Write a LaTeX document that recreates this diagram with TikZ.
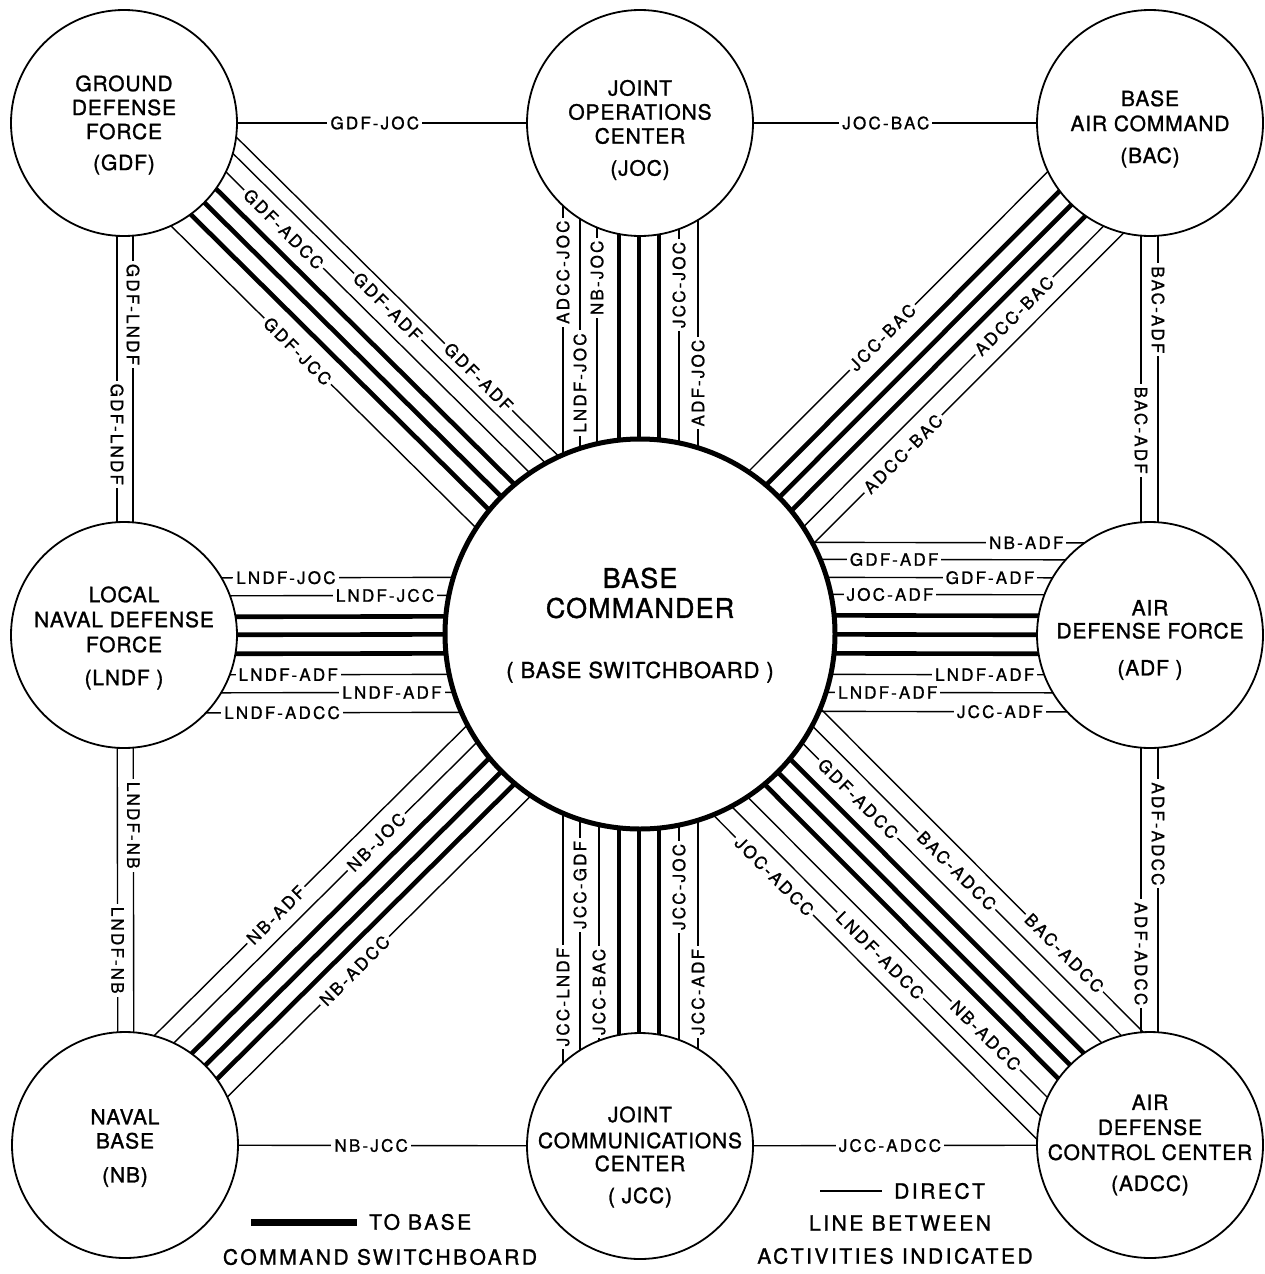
\documentclass[tikz,border=0pt]{standalone}
\usepackage{fontspec}
\setmainfont{TeX Gyre Heros}
\newfontfamily\cfam[LetterSpace=4,FakeBold=1.2]{TeX Gyre Heros}
\newfontfamily\lfam[LetterSpace=13,FakeBold=1]{TeX Gyre Heros}
\newfontfamily\gfam[LetterSpace=12,FakeBold=1.2]{TeX Gyre Heros}
\usetikzlibrary{calc,backgrounds}
\pgfdeclarelayer{paper}
\pgfsetlayers{paper,background,main}
\newcommand\wire[6]{\draw[#1] ($(#2.center)!#4pt!90:(#3.center)$) -- node[lbl,#5]{#6} ($(#3.center)!#4pt!-90:(#2.center)$);}
\newcommand\wirex[4]{\draw[#1] ($(#2.center)!#4pt!90:(#3.center)$) -- ($(#3.center)!#4pt!-90:(#2.center)$);}
\begin{document}
\begin{tikzpicture}[x=1pt,y=-1pt,
  stn/.style={circle,draw,line width=1.8pt,fill=white,minimum size=226pt,inner sep=0pt},
  hub/.style={circle,draw,line width=5pt,fill=white,minimum size=390pt,inner sep=0pt},
  ctext/.style={align=center,font=\cfam\fontsize{21}{24}\selectfont,inner sep=0pt},
  thinw/.style={line width=1.4pt},
  thickw/.style={line width=4.6pt},
  lbl/.style={fill=white,inner xsep=3pt,inner ysep=1pt,font=\lfam\fontsize{17}{17}\selectfont},
  lgd/.style={font=\gfam\fontsize{21}{21}\selectfont,inner sep=0pt}]
\begin{pgfonlayer}{paper}
\fill[white] (0,0) rectangle (1265,1274);
\end{pgfonlayer}
\useasboundingbox (0,0) rectangle (1265,1274);
% stations
\node[stn] (gdf) at (124,123) {};
\node[stn] (joc) at (640,123) {};
\node[stn] (bac) at (1150,123) {};
\node[stn] (lndf) at (124,635) {};
\node[hub] (bc) at (640,634) {};
\node[stn] (adf) at (1150,635) {};
\node[stn] (nb) at (125,1145) {};
\node[stn] (jcc) at (640,1146) {};
\node[stn] (adcc) at (1150,1145) {};
% station texts
\node[ctext] (gdft) at (124,125) {GROUND\\DEFENSE\\FORCE\\[7pt](GDF)};
\node[ctext] (joct) at (640,130) {JOINT\\OPERATIONS\\CENTER\\[8pt](JOC)};
\node[ctext] (bact) at (1150,129) {BASE\\[1pt]AIR COMMAND\\[8pt](BAC)};
\node[ctext] (lndft) at (124,638) {LOCAL\\[1pt]NAVAL DEFENSE\\[1pt]FORCE\\[9pt](LNDF )};
\node[ctext] (adft) at (1150,640) {AIR\\[-1pt]DEFENSE FORCE\\[13pt](ADF )};
\node[ctext] (nbt) at (125,1148) {NAVAL\\BASE\\[10pt](NB)};
\node[ctext] (jcct) at (640,1157) {JOINT\\[2pt]COMMUNICATIONS\\[-1pt]CENTER\\[8pt]( JCC)};
\node[ctext] (adcct) at (1150,1145) {AIR\\[1pt]DEFENSE\\[1pt]CONTROL CENTER\\[7pt](ADCC)};
\node[align=center,font=\cfam\fontsize{27}{30}\selectfont,inner sep=0pt] (bct) at (640,593) {BASE\\COMMANDER};
\node[font=\cfam\fontsize{22}{22}\selectfont,inner sep=0pt,anchor=base] (bcs) at (640,678) {( BASE SWITCHBOARD )};
\begin{pgfonlayer}{background}
% direct lines between outer stations
\wire{thinw}{gdf}{joc}{0}{pos=0.486}{GDF-JOC}
\wire{thinw}{joc}{bac}{0}{pos=0.482}{JOC-BAC}
\wire{thinw}{nb}{jcc}{0}{pos=0.478}{NB-JCC}
\wire{thinw}{jcc}{adcc}{0}{pos=0.49}{JCC-ADCC}
\wire{thinw}{gdf}{lndf}{9}{pos=0.374,rotate=-90}{GDF-LNDF}
\wire{thinw}{gdf}{lndf}{-7}{pos=0.608,rotate=-90}{GDF-LNDF}
\wire{thinw}{bac}{adf}{8}{pos=0.365,rotate=-90}{BAC-ADF}
\wire{thinw}{bac}{adf}{-9}{pos=0.6,rotate=-90}{BAC-ADF}
\wire{thinw}{lndf}{nb}{9}{pos=0.373,rotate=-90}{LNDF-NB}
\wire{thinw}{lndf}{nb}{-7}{pos=0.618,rotate=-90}{LNDF-NB}
\wire{thinw}{adf}{adcc}{8}{pos=0.39,rotate=-90}{ADF-ADCC}
\wire{thinw}{adf}{adcc}{-9}{pos=0.625,rotate=-90}{ADF-ADCC}
% JOC bundle
\wire{thinw}{joc}{bc}{-77}{pos=0.292,rotate=90}{ADCC-JOC}
\wire{thinw}{joc}{bc}{-60}{pos=0.509,rotate=90}{LNDF-JOC}
\wire{thinw}{joc}{bc}{-43}{pos=0.303,rotate=90}{NB-JOC}
\wirex{thickw}{joc}{bc}{-21}
\wirex{thickw}{joc}{bc}{-1}
\wirex{thickw}{joc}{bc}{19}
\wire{thinw}{joc}{bc}{39}{pos=0.317,rotate=90}{JCC-JOC}
\wire{thinw}{joc}{bc}{58}{pos=0.509,rotate=90}{ADF-JOC}
% JCC bundle
\wire{thinw}{jcc}{bc}{77}{pos=0.291,rotate=90}{JCC-LNDF}
\wire{thinw}{jcc}{bc}{60}{pos=0.51,rotate=90}{JCC-GDF}
\wire{thinw}{jcc}{bc}{41}{pos=0.301,rotate=90}{JCC-BAC}
\wirex{thickw}{jcc}{bc}{21}
\wirex{thickw}{jcc}{bc}{1}
\wirex{thickw}{jcc}{bc}{-19}
\wire{thinw}{jcc}{bc}{-39}{pos=0.506,rotate=90}{JCC-JOC}
\wire{thinw}{jcc}{bc}{-58}{pos=0.301,rotate=90}{JCC-ADF}
% LNDF bundle
\wire{thinw}{lndf}{bc}{57}{pos=0.314}{LNDF-JOC}
\wire{thinw}{lndf}{bc}{39}{pos=0.506}{LNDF-JCC}
\wirex{thickw}{lndf}{bc}{18}
\wirex{thickw}{lndf}{bc}{0}
\wirex{thickw}{lndf}{bc}{-19}
\wire{thinw}{lndf}{bc}{-40}{pos=0.318}{LNDF-ADF}
\wire{thinw}{lndf}{bc}{-58}{pos=0.519}{LNDF-ADF}
\wire{thinw}{lndf}{bc}{-78}{pos=0.306}{LNDF-ADCC}
% ADF bundle
\wire{thinw}{adf}{bc}{-92}{pos=0.243}{NB-ADF}
\wire{thinw}{adf}{bc}{-75}{pos=0.502}{GDF-ADF}
\wire{thinw}{adf}{bc}{-57}{pos=0.314}{GDF-ADF}
\wire{thinw}{adf}{bc}{-40}{pos=0.51}{JOC-ADF}
\wirex{thickw}{adf}{bc}{-19}
\wirex{thickw}{adf}{bc}{0}
\wirex{thickw}{adf}{bc}{19}
\wire{thinw}{adf}{bc}{40}{pos=0.324}{LNDF-ADF}
\wire{thinw}{adf}{bc}{58}{pos=0.514}{LNDF-ADF}
\wire{thinw}{adf}{bc}{77}{pos=0.294}{JCC-ADF}
% GDF bundle
\wire{thinw}{gdf}{bc}{69}{pos=0.593,rotate=-45}{GDF-ADF}
\wire{thinw}{gdf}{bc}{55}{pos=0.436,rotate=-45}{GDF-ADF}
\wire{thinw}{gdf}{bc}{37}{pos=0.259,rotate=-45}{GDF-ADCC}
\wirex{thickw}{gdf}{bc}{18}
\wirex{thickw}{gdf}{bc}{0}
\wirex{thickw}{gdf}{bc}{-18}
\wire{thinw}{gdf}{bc}{-40}{pos=0.391,rotate=-45}{GDF-JCC}
% BAC bundle
\wire{thinw}{bac}{bc}{-38}{pos=0.472,rotate=45}{JCC-BAC}
\wirex{thickw}{bac}{bc}{-16}
\wirex{thickw}{bac}{bc}{2}
\wirex{thickw}{bac}{bc}{20}
\wire{thinw}{bac}{bc}{40}{pos=0.322,rotate=45}{ADCC-BAC}
\wire{thinw}{bac}{bc}{59}{pos=0.566,rotate=45}{ADCC-BAC}
% NB bundle
\wire{thinw}{nb}{bc}{57}{pos=0.371,rotate=45}{NB-ADF}
\wire{thinw}{nb}{bc}{38}{pos=0.54,rotate=45}{NB-JOC}
\wirex{thickw}{nb}{bc}{18}
\wirex{thickw}{nb}{bc}{0}
\wirex{thickw}{nb}{bc}{-18}
\wire{thinw}{nb}{bc}{-38}{pos=0.394,rotate=45}{NB-ADCC}
% ADCC bundle
\wire{thinw}{adcc}{bc}{-75}{pos=0.272,rotate=-45}{BAC-ADCC}
\wire{thinw}{adcc}{bc}{-57}{pos=0.458,rotate=-45}{BAC-ADCC}
\wire{thinw}{adcc}{bc}{-38}{pos=0.625,rotate=-45}{GDF-ADCC}
\wirex{thickw}{adcc}{bc}{-18}
\wirex{thickw}{adcc}{bc}{0}
\wirex{thickw}{adcc}{bc}{18}
\wire{thinw}{adcc}{bc}{39}{pos=0.268,rotate=-45}{NB-ADCC}
\wire{thinw}{adcc}{bc}{57}{pos=0.45,rotate=-45}{LNDF-ADCC}
\wire{thinw}{adcc}{bc}{76}{pos=0.631,rotate=-45}{JOC-ADCC}
\end{pgfonlayer}
% legend
\coordinate (lg1) at (251,1222);
\coordinate (lg2) at (357,1222);
\draw[line width=7pt] (lg1) -- (lg2);
\node[lgd,anchor=west] (lgt1) at (369,1222) {TO\hspace{8pt}BASE};
\node[lgd] (lgt2) at (380,1257) {COMMAND SWITCHBOARD};
\coordinate (lh1) at (820,1191);
\coordinate (lh2) at (882,1191);
\draw[thinw] (lh1) -- (lh2);
\node[lgd,anchor=west] (lht1) at (894,1191) {DIRECT};
\node[lgd] (lht2) at (900,1223) {LINE BETWEEN};
\node[lgd] (lht3) at (895,1256) {ACTIVITIES INDICATED};
\end{tikzpicture}
\end{document}
